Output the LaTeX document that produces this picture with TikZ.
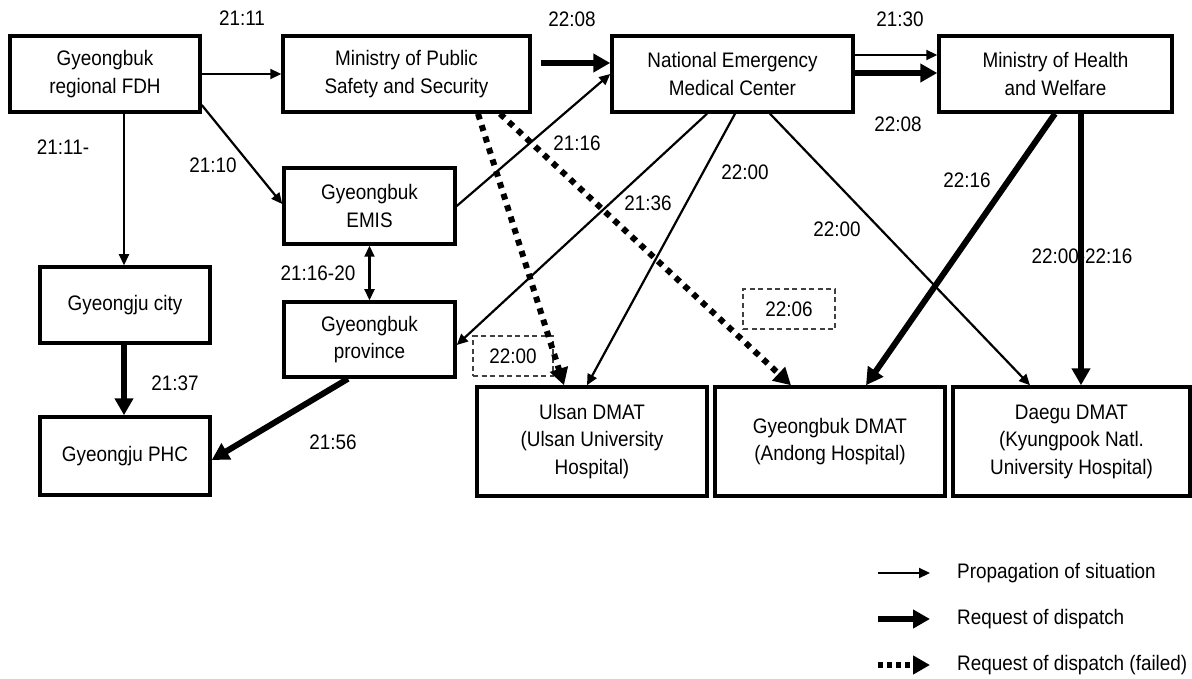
\documentclass[tikz,border=0pt]{standalone}
\usepackage{fontspec}
\setmainfont[FakeStretch=0.9]{Liberation Sans}
\usetikzlibrary{arrows.meta}
\begin{document}
\begin{tikzpicture}[x=1pt,y=-1pt,
  font=\fontsize{21}{27.5}\selectfont,
  box/.style={draw, line width=3.5pt, align=center, inner sep=0pt},
  tagbox/.style={draw=black!75, dash pattern=on 5pt off 3.5pt, line width=1.3pt, inner sep=0pt},
  lbl/.style={inner sep=0pt},
  propline/.style={line width=2.2pt, -{Triangle[length=11pt,width=10pt]}},
  bothline/.style={line width=2.2pt, {Triangle[length=11pt,width=10pt]}-{Triangle[length=11pt,width=10pt]}},
  reqline/.style={line width=6pt, -{Triangle[length=17pt,width=18pt]}},
  failline/.style={line width=6pt, dash pattern=on 6pt off 6pt, -{Triangle[length=17pt,width=18pt]}}
]
\useasboundingbox (0,0) rectangle (1192,679);

% boxes
\node[box, minimum width=190, minimum height=76] (fdh) at (105,74) {Gyeongbuk\\regional FDH};
\node[box, minimum width=247, minimum height=76] (mpss) at (406.5,74) {Ministry of Public\\Safety and Security};
\node[box, minimum width=241, minimum height=76] (nemc) at (732.5,74) {National Emergency\\Medical Center};
\node[box, minimum width=233, minimum height=76] (mohw) at (1055.5,74) {Ministry of Health\\and Welfare};
\node[box, minimum width=171, minimum height=76] (emis) at (369.5,206) {Gyeongbuk\\EMIS};
\node[box, minimum width=171, minimum height=75] (prov) at (369.5,339.5) {Gyeongbuk\\province};
\node[box, minimum width=170, minimum height=76] (city) at (125,305) {Gyeongju city};
\node[box, minimum width=170, minimum height=78] (phc) at (125,456) {Gyeongju PHC};
\node[box, minimum width=230, minimum height=109] (ulsan) at (592,441.5) {Ulsan DMAT\\(Ulsan University\\Hospital)};
\node[box, minimum width=230, minimum height=109] (gdmat) at (830,441.5) {Gyeongbuk DMAT\\(Andong Hospital)};
\node[box, minimum width=237, minimum height=109] (daegu) at (1071.5,441.5) {Daegu DMAT\\(Kyungpook Natl.\\University Hospital)};

% dashed time tags
\node[tagbox, minimum width=80, minimum height=40] (t1) at (513,356) {22:00};
\node[tagbox, minimum width=92, minimum height=40] (t2) at (789,309) {22:06};

% time labels
\node[lbl] (l2111) at (242,18) {21:11};
\node[lbl] (l2111b) at (63,147) {21:11-};
\node[lbl] (l2110) at (213,165) {21:10};
\node[lbl] (l2208a) at (572,19) {22:08};
\node[lbl] (l2116) at (577,143) {21:16};
\node[lbl] (l2136) at (648,203) {21:36};
\node[lbl] (l2200a) at (745,172) {22:00};
\node[lbl] (l2130) at (900,19) {21:30};
\node[lbl] (l2208b) at (898,124) {22:08};
\node[lbl] (l2216) at (967,180) {22:16};
\node[lbl] (l2200b) at (837,229) {22:00};
\node[lbl] (l2116b) at (318,273) {21:16-20};
\node[lbl] (l2137) at (175,383) {21:37};
\node[lbl] (l2156) at (333,442) {21:56};
\node[lbl] (l2200c) at (1082,256) {22:00-22:16};

% propagation of situation
\draw[propline] (fdh.east) -- (mpss.west);
\draw[propline] ([yshift=-31pt]fdh.east) -- ([yshift=2pt]emis.west);
\draw[propline] ([xshift=19pt]fdh.south) -- ([xshift=-1pt]city.north);
\draw[propline] (emis.east) -- (nemc.west);
\draw[propline] ([yshift=19pt]nemc.east) -- ([yshift=19pt]mohw.west);
\draw[propline] ([xshift=-25.5pt]nemc.south) -- ([yshift=-5.5pt]prov.east);
\draw[propline] ([xshift=2.5pt]nemc.south) -- ([xshift=-5pt]ulsan.north);
\draw[propline] ([xshift=37.5pt]nemc.south) -- ([xshift=-41.5pt]daegu.north);
\draw[bothline] (emis.south) -- (prov.north);

% request of dispatch
\draw[reqline] ([xshift=9pt,yshift=11pt]mpss.east) -- ([yshift=11pt]nemc.west);
\draw[reqline] ([yshift=1pt]nemc.east) -- ([yshift=1pt]mohw.west);
\draw[reqline] ([xshift=-0.5pt]mohw.south) -- ([xshift=36pt]gdmat.north);
\draw[reqline] ([xshift=25.5pt]mohw.south) -- ([xshift=9.5pt]daegu.north);
\draw[reqline] ([xshift=-1pt]city.south) -- ([xshift=-1pt]phc.north);
\draw[reqline] ([xshift=-21.5pt]prov.south) -- ([yshift=-4pt]phc.east);

% request of dispatch (failed)
\draw[failline] ([xshift=71.5pt]mpss.south) -- ([xshift=-28pt]ulsan.north);
\draw[failline] ([xshift=93.5pt]mpss.south) -- ([xshift=-39pt]gdmat.north);

% legend
\coordinate (la1) at (878,573); \coordinate (lb1) at (930,573);
\coordinate (la2) at (878,619); \coordinate (lb2) at (930,619);
\coordinate (la3) at (878,665); \coordinate (lb3) at (930,665);
\draw[propline] (la1) -- (lb1);
\draw[reqline] (la2) -- (lb2);
\draw[failline, dash pattern=on 5pt off 4pt] (la3) -- (lb3);
\node[lbl, anchor=west] (lt1) at (957,573) {Propagation of situation};
\node[lbl, anchor=west] (lt2) at (957,619) {Request of dispatch};
\node[lbl, anchor=west] (lt3) at (957,665) {Request of dispatch (failed)};
\end{tikzpicture}
\end{document}
